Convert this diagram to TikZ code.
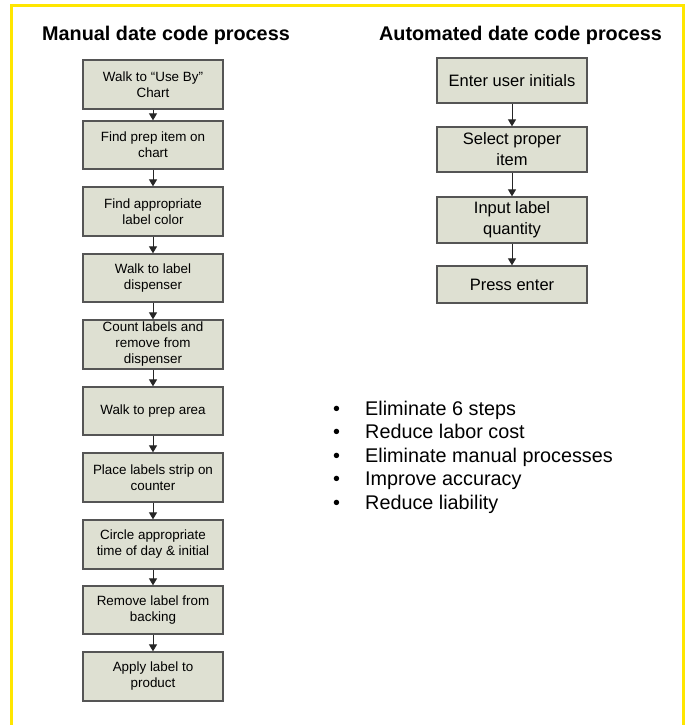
\documentclass[tikz,border=0pt]{standalone}
\usepackage{fontspec}
\setmainfont{Liberation Sans}
\usetikzlibrary{arrows.meta}
\definecolor{boxfill}{RGB}{222,224,210}
\definecolor{boxline}{RGB}{85,85,85}
\definecolor{frameyellow}{RGB}{255,230,0}
\tikzset{
  lbox/.style={draw=boxline, line width=1.3pt, fill=boxfill, minimum width=140pt, inner sep=0pt, align=center, font=\fontsize{13.4}{16}\selectfont},
  rbox/.style={draw=boxline, line width=1.3pt, fill=boxfill, minimum width=150pt, inner sep=0pt, align=center, font=\fontsize{16.5}{21}\selectfont},
  flow/.style={draw=black!85, line width=1pt, -{Triangle[length=7pt,width=8pt]}},
  title/.style={font=\fontsize{19.8}{24}\selectfont\bfseries, inner sep=0pt},
  bullet/.style={font=\fontsize{19.8}{24}\selectfont, anchor=base west, inner sep=0pt},
}
\begin{document}
\begin{tikzpicture}[x=1pt,y=-1pt]
\useasboundingbox (0,0) rectangle (688,725);
\fill[white] (0,0) rectangle (688,725);
\draw[frameyellow, line width=3pt] (11,725) -- (11,6) -- (683,6) -- (683,725);

\node[title] (tl) at (166,35) {Manual date code process};
\node[title] (tr) at (520.5,35) {Automated date code process};

% left column
\node[lbox, minimum height=49pt] (l1) at (153,84.5) {Walk to ``Use By''\\Chart};
\node[lbox, minimum height=48pt] (l2) at (153,145) {Find prep item on\\chart};
\node[lbox, minimum height=49pt] (l3) at (153,211.5) {Find appropriate\\label color};
\node[lbox, minimum height=48pt] (l4) at (153,278) {Walk to label\\dispenser};
\node[lbox, minimum height=49pt] (l5) at (153,344.5) {Count labels and\\remove from\\dispenser};
\node[lbox, minimum height=48pt] (l6) at (153,411) {Walk to prep area};
\node[lbox, minimum height=49pt] (l7) at (153,477.5) {Place labels strip on\\counter};
\node[lbox, minimum height=49pt] (l8) at (153,544.5) {Circle appropriate\\time of day \& initial};
\node[lbox, minimum height=48pt] (l9) at (153,610) {Remove label from\\backing};
\node[lbox, minimum height=49pt] (l10) at (153,676.5) {Apply label to\\product};

\foreach \a/\b in {l1/l2,l2/l3,l3/l4,l4/l5,l5/l6,l6/l7,l7/l8,l8/l9,l9/l10}
  \draw[flow] (\a.south) -- (\b.north);

% right column
\node[rbox, minimum height=45pt] (r1) at (512,80.5) {Enter user initials};
\node[rbox, minimum height=45pt] (r2) at (512,149.5) {Select proper\\item};
\node[rbox, minimum height=46pt] (r3) at (512,220) {Input label\\quantity};
\node[rbox, minimum height=37pt] (r4) at (512,284.5) {Press enter};

\foreach \a/\b in {r1/r2,r2/r3,r3/r4}
  \draw[flow] (\a.south) -- (\b.north);

% bullets
\foreach \t [count=\i from 0] in {Eliminate 6 steps,Reduce labor cost,Eliminate manual processes,Improve accuracy,Reduce liability}{
  \node[bullet] (bd\i) at (333,415+23.5*\i) {•};
  \node[bullet] (bt\i) at (365,415+23.5*\i) {\t};
}
\end{tikzpicture}
\end{document}
